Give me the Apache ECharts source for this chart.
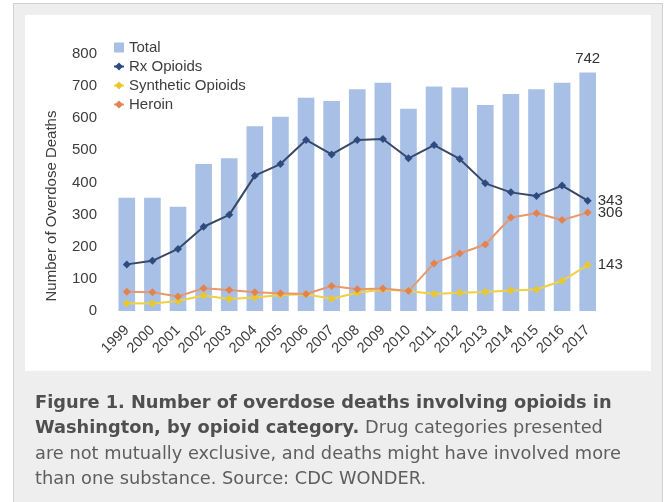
<!DOCTYPE html>
<html>
<head>
<meta charset="utf-8">
<script src="https://cdn.jsdelivr.net/npm/echarts@6/dist/echarts.min.js"></script>
<style>
  html, body { margin: 0; padding: 0; background: #ffffff; }
  #page { position: relative; width: 665px; height: 502px; overflow: hidden; background: #ffffff; }
  #box { position: absolute; left: 13px; top: 3px; width: 648px; height: 520px;
         background: #eeeeee; border: 1px solid #d0d0d0; }
  #panel { position: absolute; left: 25px; top: 15px; width: 626px; height: 356px; background: #ffffff; }
  #chart { position: absolute; left: 0; top: 0; width: 665px; height: 502px; }
  #caption { position: absolute; left: 35px; top: 388.5px; white-space: nowrap;
             font-family: "DejaVu Sans", sans-serif; font-size: 17.8px; line-height: 25.5px; color: #5e5e5e; }
  #caption b { color: #4f4f4f; }
</style>
</head>
<body>
<div id="page">
  <div id="box"></div>
  <div id="panel"></div>
  <div id="chart"></div>
  <div id="caption"><b>Figure 1. Number of overdose deaths involving opioids in<br>Washington, by opioid category.</b> Drug categories presented<br>are not mutually exclusive, and deaths might have involved more<br>than one substance. Source: CDC WONDER.</div>
</div>
<script>
// Overdose deaths in Washington by opioid category, 1999-2017
const years = ['1999','2000','2001','2002','2003','2004','2005','2006','2007','2008',
               '2009','2010','2011','2012','2013','2014','2015','2016','2017'];
const total     = [352, 352, 324, 457, 475, 575, 604, 663, 653, 690, 710, 629, 698, 695, 641, 675, 690, 710, 742];
const rxOpioids = [145, 156, 193, 262, 299, 421, 457, 532, 487, 532, 535, 475, 516, 473, 397, 369, 358, 390, 343];
const synthetic = [24, 23, 31, 48, 37, 42, 50, 52, 38, 57, 67, 62, 53, 57, 59, 64, 67, 94, 143];
const heroin    = [60, 58, 45, 71, 65, 58, 55, 53, 78, 68, 70, 62, 148, 179, 207, 291, 304, 283, 306];
const yTicks = { min: 0, max: 800, step: 100 };
const yTitle = 'Number of Overdose Deaths';

const textColor = '#3d3d3d';
const baseFont = 'Liberation Sans';

// label only the final year's value
function lastOnly(arr, pos, color) {
  return arr.map((v, i) => i === arr.length - 1
    ? { value: v, label: { show: true, position: pos, distance: 6, color: color,
        fontFamily: baseFont, fontSize: 15 } }
    : v);
}

const chart = echarts.init(document.getElementById('chart'), null, { renderer: 'canvas' });
chart.setOption({
  backgroundColor: 'transparent',
  animation: false,
  textStyle: { fontFamily: baseFont },
  grid: { left: 114, right: 64.5, top: 53.8, bottom: 191, containLabel: false },
  legend: {
    orient: 'vertical', left: 108, top: 35,
    itemWidth: 10, itemHeight: 10, itemGap: 4,
    textStyle: { color: textColor, fontSize: 15, fontFamily: baseFont, lineHeight: 15 },
    data: [
      { name: 'Total', icon: 'rect' },
      { name: 'Rx Opioids' },
      { name: 'Synthetic Opioids' },
      { name: 'Heroin' }
    ]
  },
  xAxis: {
    type: 'category', data: years, boundaryGap: true,
    axisLine: { show: false }, axisTick: { show: false },
    axisLabel: { rotate: 45, margin: 17, color: textColor, fontSize: 14.5, fontFamily: baseFont, interval: 0 }
  },
  yAxis: {
    type: 'value', min: yTicks.min, max: yTicks.max, interval: yTicks.step,
    splitLine: { show: false }, axisLine: { show: false }, axisTick: { show: false },
    axisLabel: { margin: 17, color: textColor, fontSize: 15, fontFamily: baseFont }
  },
  graphic: [{
    type: 'text', x: 52, y: 206, rotation: Math.PI / 2,
    style: { text: yTitle, fill: textColor, font: '15px "Liberation Sans"',
             textAlign: 'center', textVerticalAlign: 'middle' }
  }],
  series: [
    {
      name: 'Total', type: 'bar', data: lastOnly(total, 'top', '#333333'),
      barCategoryGap: '35%', itemStyle: { color: '#a9c0e6' }
    },
    {
      name: 'Rx Opioids', type: 'line', data: lastOnly(rxOpioids, 'right', '#333333'),
      symbol: 'diamond', symbolSize: 8, showAllSymbol: true,
      lineStyle: { color: '#3a4865', width: 2 },
      itemStyle: { color: '#2d4b80' }
    },
    {
      name: 'Synthetic Opioids', type: 'line', data: lastOnly(synthetic, 'right', '#333333'),
      symbol: 'diamond', symbolSize: 8, showAllSymbol: true,
      lineStyle: { color: '#f0d040', width: 2 },
      itemStyle: { color: '#e9c82e' }
    },
    {
      name: 'Heroin', type: 'line', data: lastOnly(heroin, 'right', '#333333'),
      symbol: 'diamond', symbolSize: 8, showAllSymbol: true,
      lineStyle: { color: '#e9976c', width: 2 },
      itemStyle: { color: '#e2834f' }
    }
  ]
});
</script>
</body>
</html>
